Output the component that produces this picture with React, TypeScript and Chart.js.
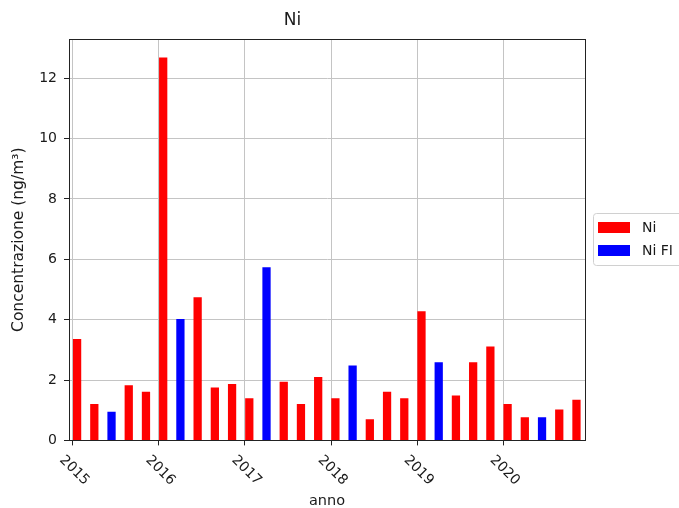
import { useEffect, useRef } from "react";
import { Chart, registerables } from "chart.js";

Chart.register(...registerables);

const sampleX = [
  2015.05, 2015.25, 2015.45, 2015.65, 2015.85,
  2016.05, 2016.25, 2016.45, 2016.65, 2016.85,
  2017.05, 2017.25, 2017.45, 2017.65, 2017.85,
  2018.05, 2018.25, 2018.45, 2018.65, 2018.85,
  2019.05, 2019.25, 2019.45, 2019.65, 2019.85,
  2020.05, 2020.25, 2020.45, 2020.65, 2020.85,
];

const niValues = [
  3.36, 1.21, null, 1.83, 1.61,
  12.69, null, 4.74, 1.75, 1.87,
  1.4, null, 1.94, 1.21, 2.1,
  1.4, null, 0.7, 1.61, 1.4,
  4.28, null, 1.49, 2.59, 3.11,
  1.21, 0.77, null, 1.02, 1.35,
];

const niFiValues = [
  null, null, 0.95, null, null,
  null, 4.02, null, null, null,
  null, 5.74, null, null, null,
  null, 2.48, null, null, null,
  null, 2.59, null, null, null,
  null, null, 0.77, null, null,
];

const yearTicks = [2015, 2016, 2017, 2018, 2019, 2020];
const yTicks = [0, 2, 4, 6, 8, 10, 12];

const FONT = "'DejaVu Sans', sans-serif";
const TEXT = "#1a1a1a";

export default function App() {
  const ref = useRef<HTMLCanvasElement | null>(null);

  useEffect(() => {
    if (!ref.current) return;

    const overlay = {
      id: "overlay",
      afterDraw(chart: any) {
        const ctx = chart.ctx;
        const area = chart.chartArea;
        const xs = chart.scales.x;
        ctx.save();
        // frame
        ctx.strokeStyle = "#222";
        ctx.lineWidth = 1;
        ctx.strokeRect(
          Math.round(area.left) + 0.5,
          Math.round(area.top) + 0.5,
          Math.round(area.right - area.left),
          Math.round(area.bottom - area.top)
        );
        // rotated x labels
        ctx.fillStyle = TEXT;
        ctx.font = `14px ${FONT}`;
        ctx.textAlign = "center";
        ctx.textBaseline = "middle";
        yearTicks.forEach((yr) => {
          const px = xs.getPixelForValue(yr);
          ctx.save();
          ctx.translate(px + 1.5, area.bottom + 30);
          ctx.rotate(Math.PI / 4);
          ctx.fillText(String(yr), 0, 0);
          ctx.restore();
        });
        // legend
        const lx = 593;
        const ly = 213;
        const lw = 100;
        const lh = 52;
        ctx.beginPath();
        ctx.roundRect(lx + 0.5, ly + 0.5, lw, lh, 3);
        ctx.fillStyle = "rgba(255,255,255,0.8)";
        ctx.fill();
        ctx.strokeStyle = "#d0d0d0";
        ctx.stroke();
        ctx.font = `14px ${FONT}`;
        ctx.textAlign = "left";
        chart.data.datasets.forEach((ds: any, i: number) => {
          const ey = ly + 9 + i * 23;
          ctx.fillStyle = ds.backgroundColor;
          ctx.fillRect(lx + 5, ey, 32, 11);
          ctx.fillStyle = TEXT;
          ctx.fillText(ds.label, lx + 49, ey + 6);
        });
        ctx.restore();
      },
    };

    const chart = new Chart(ref.current, {
      type: "bar",
      data: {
        datasets: [
          {
            label: "Ni",
            data: sampleX.map((x, i) => ({ x, y: niValues[i] })) as any,
            backgroundColor: "#ff0000",
            borderWidth: 0,
            grouped: false,
          },
          {
            label: "Ni FI",
            data: sampleX.map((x, i) => ({ x, y: niFiValues[i] })) as any,
            backgroundColor: "#0000ff",
            borderWidth: 0,
            grouped: false,
          },
        ],
      },
      options: {
        animation: false,
        responsive: false,
        categoryPercentage: 0.6,
        barPercentage: 0.8,
        layout: { padding: { left: 0, right: 94, top: 0, bottom: 0 } },
        plugins: {
          legend: { display: false },
          tooltip: { enabled: false },
          title: {
            display: true,
            text: "Ni",
            color: TEXT,
            font: { family: FONT, size: 17, weight: "normal" },
            padding: { top: 10, bottom: 8.6 },
          },
        },
        scales: {
          x: {
            type: "linear",
            min: 2014.956,
            max: 2020.949,
            offset: false,
            z: 1,
            afterBuildTicks: (s: any) => {
              s.ticks = yearTicks.map((v) => ({ value: v }));
            },
            afterFit: (s: any) => {
              s.height = 67.6;
            },
            ticks: { display: false },
            grid: { offset: false, color: "#c4c4c4", lineWidth: 1, tickColor: "#222", tickLength: 5 },
            border: { color: "#222", width: 1 },
            title: {
              display: true,
              text: "anno",
              color: TEXT,
              font: { family: FONT, size: 14.5, lineHeight: 1 },
              padding: { top: 0, bottom: 0 },
            },
          },
          y: {
            min: 0,
            max: 13.3,
            z: 1,
            afterBuildTicks: (s: any) => {
              s.ticks = yTicks.map((v) => ({ value: v }));
            },
            afterFit: (s: any) => {
              s.width = 69;
            },
            ticks: {
              color: TEXT,
              font: { family: FONT, size: 14 },
              padding: 7,
            },
            grid: { color: "#c4c4c4", lineWidth: 1, tickColor: "#222", tickLength: 5 },
            border: { color: "#222", width: 1 },
            title: {
              display: true,
              text: "Concentrazione (ng/m³)",
              color: TEXT,
              font: { family: FONT, size: 15.5, lineHeight: 1.2 },
              padding: { top: 10, bottom: 0 },
            },
          },
        },
      },
      plugins: [overlay],
    } as any);

    return () => chart.destroy();
  }, []);

  return (
    <div style={{ position: "fixed", left: 0, top: 0, width: 679, height: 508, background: "#fff" }}>
      <canvas ref={ref} width={679} height={508} style={{ display: "block" }} />
    </div>
  );
}
